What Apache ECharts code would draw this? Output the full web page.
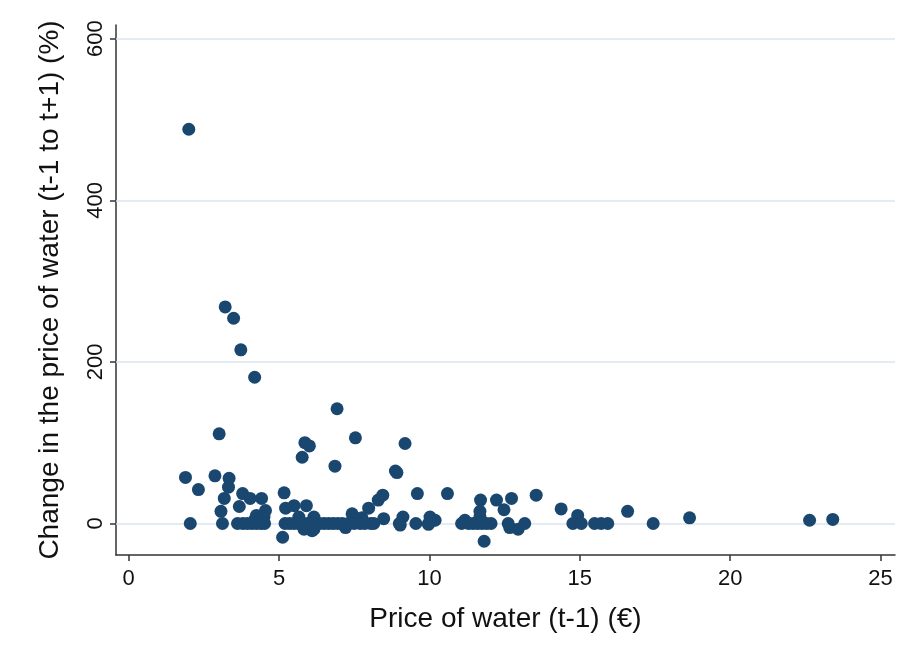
<!DOCTYPE html>
<html>
<head>
<meta charset="utf-8">
<script src="https://cdn.jsdelivr.net/npm/echarts@6.0.0/dist/echarts.min.js"></script>
<style>
html,body{margin:0;padding:0;background:#fff;}
#chart{width:918px;height:669px;}
</style>
</head>
<body>
<div id="chart"></div>
<script>
// Price of water (t-1) in euro
const priceT1 = [
  2.0, 3.21, 3.49, 3.73, 4.19, 6.93, 3.01, 7.54, 5.86, 6.01, 9.19, 5.77, 6.86, 8.87, 8.92,
  1.89, 2.87, 3.34, 3.32, 2.32, 3.18, 3.79, 4.04, 4.42, 3.68, 3.07, 4.55, 4.25, 4.5,
  5.17, 5.22, 5.5, 5.91, 7.43, 7.98, 8.3, 8.45, 9.6, 10.6, 9.12, 10.02, 10.19, 8.48, 7.65, 7.76, 5.66, 6.16,
  11.7, 12.23, 12.73, 12.48, 11.68, 11.68, 11.18, 13.55, 14.38, 16.59, 14.93, 18.65, 22.64, 23.41,
  5.12, 11.82, 5.83, 6.1, 7.21, 12.67, 12.95, 9.03, 9.97, 6.16, 4.2, 4.35,
  2.05, 3.12, 3.62, 3.8, 3.95, 4.1, 4.25, 4.4, 4.52,
  5.2, 5.35, 5.5, 5.65, 5.8, 5.95, 6.05, 6.2, 6.35, 6.5, 6.65, 6.8, 6.95, 7.1, 7.3, 7.5, 7.7, 7.85, 8.05, 8.15,
  9.0, 9.55, 9.97, 10.13, 11.07, 11.3, 11.45, 11.6, 11.75, 11.9, 12.05, 12.62, 13.17,
  14.77, 15.05, 15.49, 15.71, 15.93, 17.44
];
// Change in the price of water (t-1 to t+1), %
const changePct = [
  488, 268, 254, 215, 181, 142, 111, 106, 100, 96, 99, 82, 71, 65, 63,
  57, 59, 56, 45, 42, 31, 37, 31, 31, 21, 15, 16, 10, 8,
  38, 19, 22, 22, 12, 19, 29, 35, 37, 37, 8, 8, 4, 6, 6, 7, 8, 8,
  29, 29, 31, 17, 15, 8, 4, 35, 18, 15, 10, 7, 4, 5,
  -17, -22, -7, -9, -5, -5, -7, -2, -1, -7, 5, 3,
  0, 0, 0, 0, 0, 0, 0, 0, 0,
  0, 0, 0, 0, 0, 0, 0, 0, 0, 0, 0, 0, 0, 0, 0, 0, 0, 0, 0, 0,
  0, 0, 0, 4, 0, 0, 0, 0, 0, 0, 0, 0, 0,
  0, 0, 0, 0, 0, 0
];
const xTicks = [0, 5, 10, 15, 20, 25];
const yTicks = [0, 200, 400, 600];

const points = priceT1.map((x, i) => [x, changePct[i]]);
const font = '"Liberation Sans", Arial, Helvetica, sans-serif';

const chart = echarts.init(document.getElementById('chart'), null, {renderer: 'canvas'});
chart.setOption({
  backgroundColor: '#ffffff',
  animation: false,
  grid: {left: 116, right: 23, top: 25, bottom: 114, containLabel: false},
  xAxis: {
    type: 'value', min: -0.42, max: 25.48,
    name: 'Price of water (t-1) (€)',
    nameLocation: 'middle', nameGap: 50,
    nameTextStyle: {fontFamily: font, fontSize: 28, color: '#111'},
    axisLine: {show: true, onZero: false, lineStyle: {color: '#333', width: 1.5}},
    axisTick: {show: true, length: 6, customValues: xTicks, lineStyle: {color: '#333', width: 1.5}},
    axisLabel: {customValues: xTicks, fontFamily: font, fontSize: 22, color: '#111', margin: 13},
    splitLine: {show: false}
  },
  yAxis: {
    type: 'value', min: -39, max: 617,
    name: 'Change in the price of water (t-1 to t+1) (%)',
    nameLocation: 'middle', nameGap: 52, nameRotate: 90,
    nameTextStyle: {fontFamily: font, fontSize: 28, color: '#111'},
    axisLine: {show: true, onZero: false, lineStyle: {color: '#333', width: 1.5}},
    axisTick: {show: true, length: 6, customValues: yTicks, lineStyle: {color: '#333', width: 1.5}},
    axisLabel: {customValues: yTicks, rotate: 90, fontFamily: font, fontSize: 22, color: '#111', margin: 9},
    splitLine: {show: false}
  },
  series: [
    {
      type: 'scatter', data: [], z: 1, silent: true,
      markLine: {
        silent: true, symbol: 'none', label: {show: false}, animation: false,
        lineStyle: {color: '#dbe5ee', width: 1.5, type: 'solid'},
        data: yTicks.map(v => ({yAxis: v}))
      }
    },
    {
      type: 'scatter', z: 5,
      symbol: 'circle', symbolSize: 13,
      itemStyle: {color: '#1a476f', opacity: 1},
      data: points
    }
  ]
});
</script>
</body>
</html>
